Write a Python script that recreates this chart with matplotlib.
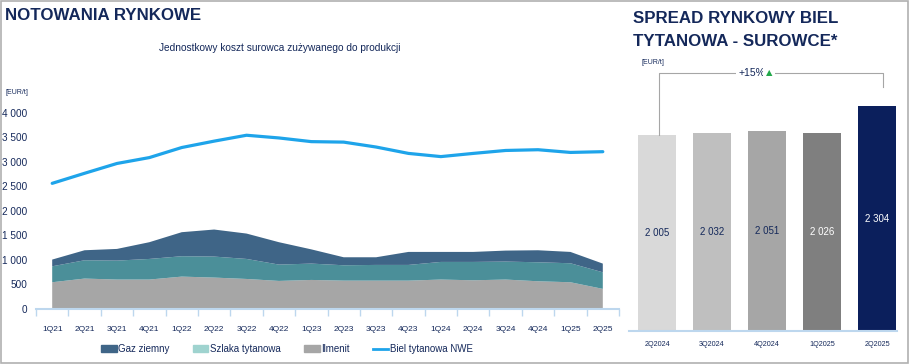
import matplotlib
matplotlib.use("Agg")
import matplotlib.pyplot as plt
from matplotlib.patches import Patch, Rectangle
from matplotlib.lines import Line2D
from matplotlib.ticker import FuncFormatter

plt.rcParams["font.family"] = ["Liberation Sans", "DejaVu Sans"]

NAVY = "#14285a"
AXIS_BLUE = "#bdd7ee"

quarters = ["1Q21", "2Q21", "3Q21", "4Q21", "1Q22", "2Q22", "3Q22", "4Q22", "1Q23",
            "2Q23", "3Q23", "4Q23", "1Q24", "2Q24", "3Q24", "4Q24", "1Q25", "2Q25"]
ilmenit = [545, 620, 600, 600, 660, 640, 612, 572, 592,
           578, 578, 578, 600, 585, 600, 565, 545, 410]
szlaka = [325, 373, 386, 420, 415, 428, 408, 333, 333,
          313, 320, 320, 359, 374, 366, 387, 387, 338]
gaz = [137, 204, 238, 341, 490, 551, 517, 456, 290,
       163, 156, 265, 204, 204, 224, 245, 231, 177]
biel_nwe = [2560, 2765, 2965, 3085, 3290, 3420, 3540, 3485, 3410,
            3400, 3300, 3170, 3105, 3170, 3230, 3245, 3190, 3205]

spread_labels = ["2Q2024", "3Q2024", "4Q2024", "1Q2025", "2Q2025"]
spread_values = [2005, 2032, 2051, 2026, 2304]
spread_colors = ["#d9d9d9", "#bfbfbf", "#a6a6a6", "#7f7f7f", "#0b1f5c"]
spread_text_colors = [NAVY, NAVY, NAVY, "white", "white"]

W, H = 910, 364
fig = plt.figure(figsize=(W / 100, H / 100), dpi=100)
fig.patches.append(Rectangle((0.001, 0.003), 0.997, 0.995, transform=fig.transFigure,
                             fill=False, edgecolor="#b0b0b0", linewidth=1.2))


def px_axes(x0, y0, x1, y1):
    return fig.add_axes([x0 / W, 1 - y1 / H, (x1 - x0) / W, (y1 - y0) / H])


def spaced(v):
    return f"{int(v):,}".replace(",", " ")


# left chart: stacked raw material cost + TiO2 price line
ax = px_axes(36, 95, 619, 309)
x = range(len(quarters))
ax.stackplot(x, ilmenit, szlaka, gaz,
             colors=["#a6a6a6", "#4b8f99", "#3f6587"], linewidth=0)
ax.plot(x, biel_nwe, color="#1ea4ea", linewidth=2.3, solid_capstyle="round")

ax.set_xlim(-0.5, len(quarters) - 0.5)
ax.set_ylim(0, 4360)
ax.set_yticks(range(0, 4001, 500))
ax.yaxis.set_major_formatter(FuncFormatter(lambda v, p: spaced(v)))
ax.set_xticks(list(x))
ax.set_xticklabels(quarters)
ax.set_xticks([i - 0.5 for i in range(len(quarters) + 1)], minor=True)
ax.tick_params(axis="x", which="major", length=0, pad=12, labelsize=6, labelcolor=NAVY)
ax.tick_params(axis="x", which="minor", length=5, color=AXIS_BLUE, width=1)
ax.tick_params(axis="y", length=0, pad=6, labelsize=7.2, labelcolor=NAVY)
for s in ["top", "right", "left"]:
    ax.spines[s].set_visible(False)
ax.spines["bottom"].set_color(AXIS_BLUE)
ax.spines["bottom"].set_linewidth(1.5)
ax.patch.set_alpha(0)

handles = [Patch(color="#3f6587"), Patch(color="#9fd3cf"), Patch(color="#a6a6a6"),
           Line2D([0], [0], color="#1ea4ea", linewidth=2)]
fig.legend(handles, ["Gaz ziemny", "Szlaka tytanowa", "Ilmenit", "Biel tytanowa NWE"],
           loc="center", bbox_to_anchor=(287 / W, 1 - 349 / H), ncol=4, frameon=False,
           fontsize=7, handlelength=1.6, handleheight=0.7, handletextpad=0.15,
           columnspacing=2.4, labelcolor=NAVY)

fig.text(5 / W, 1 - 16 / H, "NOTOWANIA RYNKOWE", fontsize=12.2, fontweight="bold",
         color=NAVY, va="center")
fig.text(280 / W, 1 - 48 / H, "Jednostkowy koszt surowca zużywanego do produkcji",
         fontsize=7.3, color=NAVY, ha="center", va="center")
fig.text(5 / W, 1 - 92 / H, "[EUR/t]", fontsize=5, color=NAVY, va="center")

# right chart: spread bars
bx = px_axes(629, 55, 897, 331)
pos = range(len(spread_values))
bx.bar(pos, spread_values, width=0.69, color=spread_colors)
for i, v in enumerate(spread_values):
    bx.text(i, v / 2, spaced(v), ha="center", va="center",
            fontsize=7, color=spread_text_colors[i])
bx.set_xlim(-0.51, 4.36)
bx.set_ylim(0, 2830)
bx.set_xticks(list(pos))
bx.set_xticklabels(spread_labels)
bx.tick_params(axis="x", length=0, pad=7, labelsize=5.2, labelcolor=NAVY)
bx.set_yticks([])
for s in ["top", "right", "left"]:
    bx.spines[s].set_visible(False)
bx.spines["bottom"].set_color(AXIS_BLUE)
bx.spines["bottom"].set_linewidth(1.5)

# +15% bracket
top = spread_values[-1] * 1.15
bx.plot([0.04, 0.04, 4.11, 4.11], [spread_values[0], top, top, spread_values[-1] + 195],
        color="#a6a6a6", linewidth=0.8)
bx.text(1.97, top, "+15%", ha="right", va="center", fontsize=7.5, color=NAVY,
        bbox=dict(facecolor="white", edgecolor="none", pad=2))
bx.text(1.97, top, "▲", ha="left", va="center", fontsize=6, color="#22a84a",
        family="DejaVu Sans", bbox=dict(facecolor="white", edgecolor="none", pad=2))

fig.text(633 / W, 1 - 30 / H, "SPREAD RYNKOWY BIEL\nTYTANOWA - SUROWCE*", fontsize=12.2,
         fontweight="bold", color=NAVY, va="center", linespacing=1.6)
fig.text(641 / W, 1 - 63 / H, "[EUR/t]", fontsize=5, color=NAVY, va="center")

fig.savefig("out.png", dpi=100)
